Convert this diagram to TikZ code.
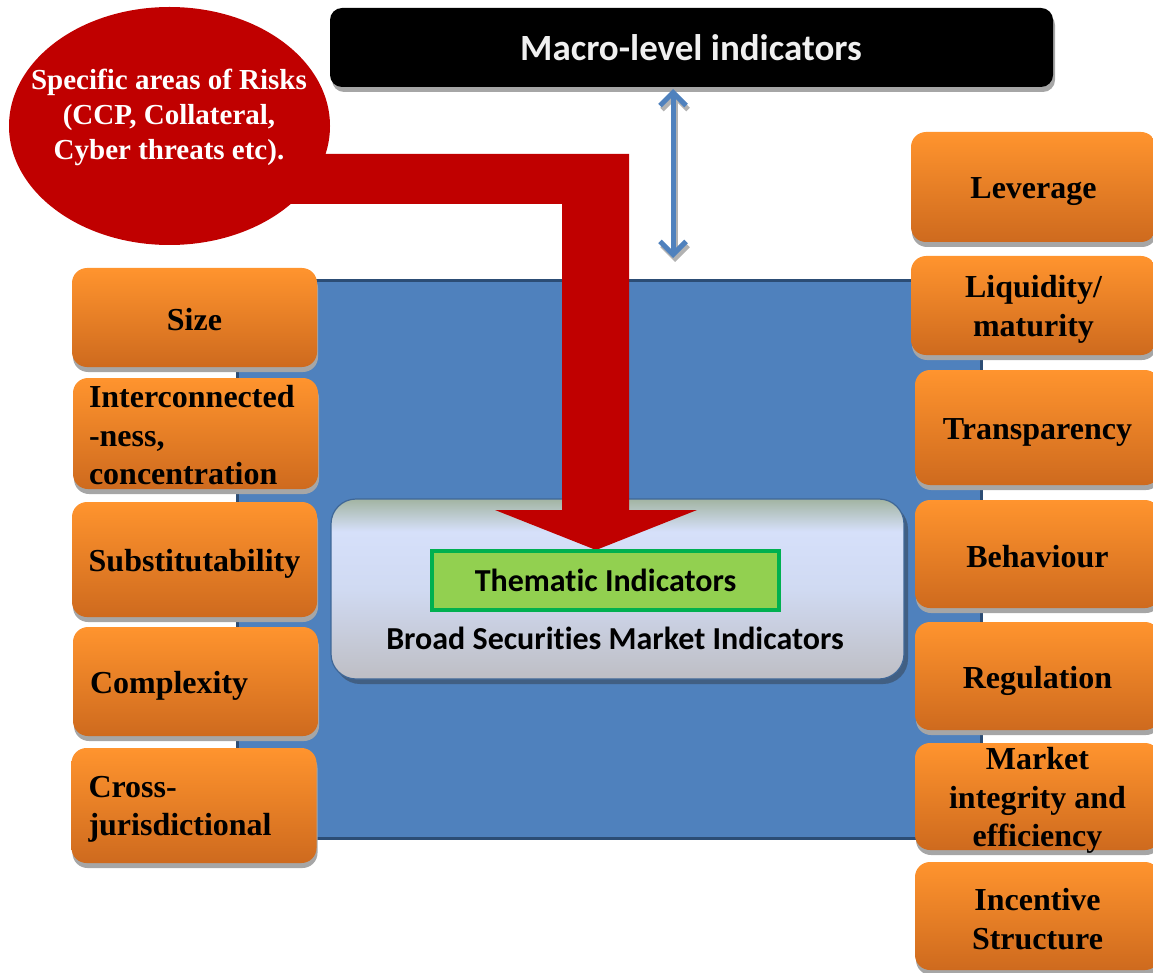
\documentclass[tikz,border=0pt]{standalone}
\usepackage{fontspec}
\setmainfont{Liberation Serif}
\newfontfamily\calfont[Ligatures={NoCommon,NoContextual}]{Carlito}
\usetikzlibrary{shadows,arrows.meta}
\definecolor{bluefill}{RGB}{79,129,189}
\definecolor{blueedge}{RGB}{44,77,117}
\definecolor{orangetop}{RGB}{255,148,46}
\definecolor{orangebot}{RGB}{206,106,30}
\definecolor{riskred}{RGB}{192,0,0}
\definecolor{greenfill}{RGB}{146,208,80}
\definecolor{greenedge}{RGB}{0,176,80}
\definecolor{bxtop}{RGB}{162,180,162}
\definecolor{bxmid}{RGB}{214,224,250}
\definecolor{bxmid2}{RGB}{208,218,242}
\definecolor{bxbot}{RGB}{190,190,196}
\definecolor{arrowblue}{RGB}{79,129,189}
\pgfdeclareverticalshading{broadsh}{100bp}{color(0bp)=(bxbot); color(25bp)=(bxbot); color(50bp)=(bxmid2); color(66bp)=(bxmid); color(75bp)=(bxtop); color(100bp)=(bxtop)}
\tikzset{
  obox/.style={rounded corners=15pt, top color=orangetop, bottom color=orangebot,
    minimum width=245pt, inner sep=0pt,
    drop shadow={shadow xshift=1pt, shadow yshift=-5pt, fill=black!35, opacity=1}},
  otext/.style={inner sep=0pt, align=center, font=\fontsize{32}{38.5}\selectfont\bfseries, text=black},
  otextl/.style={otext, text width=211pt, align=left},
  cal/.style={font=\calfont\fontsize{32}{38}\selectfont\bfseries},
  dblarrow/.style={draw=arrowblue, line width=5pt, {Straight Barb[length=13pt,width=26pt]}-{Straight Barb[length=13pt,width=26pt]}}
}
\begin{document}
\begin{tikzpicture}[x=1pt,y=-1pt]
\useasboundingbox (0,0) rectangle (1153,973);
% blue background panel
\node[draw=blueedge, line width=3pt, fill=bluefill, minimum width=744pt, minimum height=557pt, inner sep=0pt] (panel) at (609,559.5) {};
% broad box
\node[fill=blueedge!90, rounded corners=25pt, minimum width=573pt, minimum height=180pt, inner sep=0pt] (broadsh) at (621.5,594) {};
\node[draw=bluefill!80!black, line width=1.2pt, rounded corners=25pt, shading=broadsh, minimum width=573pt, minimum height=180pt, inner sep=0pt] (broad) at (617.5,589) {};
\node[cal, text=black] (broadtxt) at (615,638) {Broad Securit\kern0pt ies Market Indicators};
% macro box
\node[fill=black, rounded corners=12pt, minimum width=723pt, minimum height=79pt, inner sep=0pt,
  drop shadow={shadow xshift=2pt, shadow yshift=-5pt, fill=black!35, opacity=1}] (macro) at (691.5,47.5) {};
\node[font=\calfont\fontsize{37}{42}\selectfont\bfseries, text=white!94!black] (macrotxt) at (691,48) {Macro-level indicators};
% double arrow
\coordinate (atop) at (673,89);
\coordinate (abot) at (673,258);
\coordinate (atops) at (675,93);
\coordinate (abots) at (675,262);
\draw[dblarrow, draw=black!30] (atops) -- (abots);
\draw[dblarrow] (atop) -- (abot);
% left boxes
\node[obox, minimum height=99pt] (size) at (194.5,317.5) {};
\node[otext] (sizet) at ([yshift=-2pt]size.center) {Size};
\node[obox, minimum height=111pt] (inter) at (195.5,433.5) {};
\node[otextl] (intert) at ([xshift=-1pt,yshift=-2pt]inter.center) {Interconnected\\-ness,\\concentration};
\node[obox, minimum height=115pt] (subst) at (194.5,559.5) {};
\node[otext] (substt) at ([yshift=-4pt]subst.center) {Substitutability};
\node[obox, minimum height=109pt] (compl) at (195.5,681.5) {};
\node[otextl] (complt) at ([yshift=-4.5pt]compl.center) {Complexity};
\node[obox, minimum height=115pt] (cross) at (194,805.5) {};
\node[otextl] (crosst) at ([yshift=-4pt]cross.center) {Cross-\\jurisdictional};
% right boxes
\node[obox, minimum height=110pt] (lev) at (1033.5,187) {};
\node[otext] (levt) at ([yshift=-5pt]lev.center) {Leverage};
\node[obox, minimum height=99pt] (liq) at (1033.5,305.5) {};
\node[otext] (liqt) at ([yshift=-4pt]liq.center) {Liquidity/\\maturity};
\node[obox, minimum height=115pt] (trans) at (1037.5,427.5) {};
\node[otext] (transt) at ([yshift=-5pt]trans.center) {Transparency};
\node[obox, minimum height=108pt] (behav) at (1037.5,554) {};
\node[otext] (behavt) at ([yshift=-3pt]behav.center) {Behaviour};
\node[obox, minimum height=108pt] (reg) at (1037.5,676) {};
\node[otext] (regt) at ([yshift=-5pt]reg.center) {Regulation};
\node[obox, minimum height=107pt] (mkt) at (1037.5,796.5) {};
\node[otext] (mktt) at ([yshift=-4pt]mkt.center) {Market\\integrity and\\efficiency};
\node[obox, minimum height=108pt] (inc) at (1037.5,916) {};
\node[otext] (inct) at ([yshift=-3pt]inc.center) {Incentive\\Structure};
% red bent arrow
\fill[riskred] (250,154) -- (629,154) -- (629,510) -- (697,510) -- (596,550) -- (495,510) -- (562,510) -- (562,204) -- (250,204) -- cycle;
% ellipse
\fill[riskred] (169.5,126) ellipse [x radius=160.5pt, y radius=119pt];
\node[font=\fontsize{29}{35}\selectfont\bfseries, text=white, align=center] (risk) at (169,117) {Specific areas of Risks\\(CCP, Collateral,\\Cyber threats etc).};
% green thematic box
\node[fill=greenfill, draw=greenedge, line width=4.5pt, minimum width=347pt, minimum height=59pt, inner sep=0pt, cal] (them) at (605.5,580.5) {Themat\kern0pt ic Indicators};
\end{tikzpicture}
\end{document}
